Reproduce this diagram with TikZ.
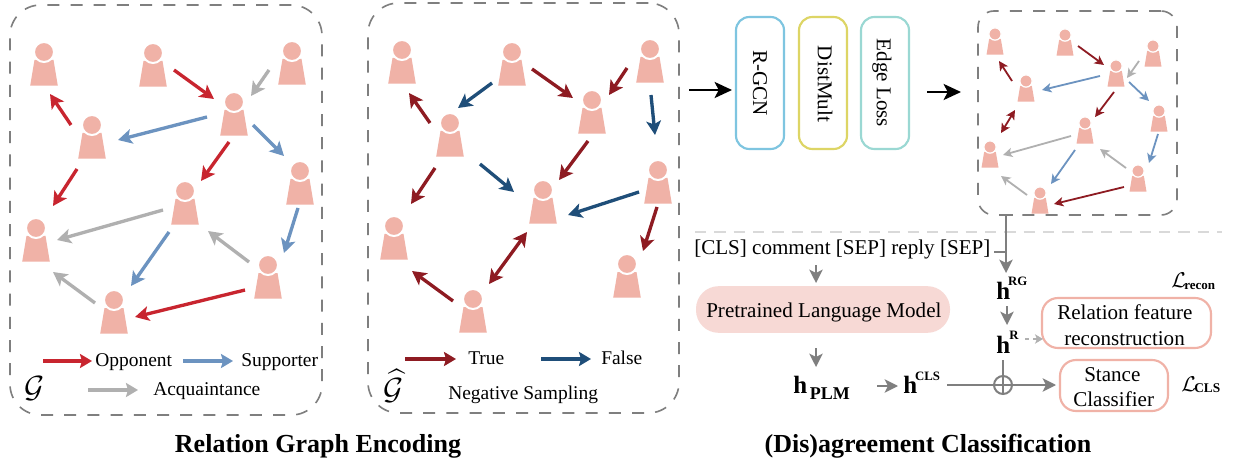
\documentclass[tikz,border=0pt]{standalone}
\usepackage{fontspec}
\usepackage{amsmath}
\setmainfont{Liberation Serif}
\usetikzlibrary{arrows.meta}
\definecolor{pskin}{HTML}{F0B2A7}
\definecolor{cred}{HTML}{C8252F}
\definecolor{cblue}{HTML}{6C93C0}
\definecolor{cgray}{HTML}{B0B0B0}
\definecolor{cdark}{HTML}{8E1B22}
\definecolor{cnavy}{HTML}{1F4E79}
\definecolor{fgray}{HTML}{7F7F7F}
\definecolor{modA}{HTML}{7EC5E0}
\definecolor{modB}{HTML}{DDD565}
\definecolor{modC}{HTML}{9AD8D3}
\definecolor{plmfill}{HTML}{F7D9D5}
\newcommand{\bodysize}{\fontsize{14.6}{17}\selectfont}
\newcommand{\largesize}{\fontsize{15.8}{18}\selectfont}
\newcommand{\person}[3]{%
  \begin{scope}[shift={(#2)},scale=#3]
    \fill[pskin] (-9.5,8) -- (9.5,8) -- (13.8,33.7) -- (-13.8,33.7) -- cycle;
    \pgfmathsetmacro{\headsize}{15*#3}
    \node[circle,fill=pskin,draw=white,line width=#3*1.5pt,inner sep=0pt,minimum size=\headsize pt] (#1) at (0,0) {};
  \end{scope}}
\newcommand{\conn}[5]{\draw[#1] ([shift={(#3)}]#2.center) -- ([shift={(#5)}]#4.center);}
\tikzset{
  x=0.75pt,y=-0.75pt,
  big/.style={line width=2.5pt,-{Stealth[length=10.5pt,width=11pt,inset=2.5pt]}},
  dbl/.style={line width=2.5pt,{Stealth[length=10.5pt,width=11pt,inset=2.5pt]}-{Stealth[length=10.5pt,width=11pt,inset=2.5pt]}},
  small/.style={line width=1.35pt,-{Stealth[length=7pt,width=7pt,inset=1.8pt]}},
  smalldbl/.style={line width=1.35pt,{Stealth[length=7pt,width=7pt,inset=1.8pt]}-{Stealth[length=7pt,width=7pt,inset=1.8pt]}},
  legend/.style={line width=2.4pt,-{Stealth[length=9pt,width=10.5pt,inset=1.5pt]}},
  dashbox/.style={draw=fgray,line width=1.2pt,rounded corners=23pt,dash pattern=on 9pt off 8.4pt,inner sep=0pt},
  modbox/.style={draw=#1,rounded corners=10pt,line width=1.6pt,rotate=-90,minimum width=99pt,minimum height=36pt,inner sep=0pt,font=\largesize},
  txt/.style={anchor=base west,inner sep=0pt,font=\bodysize,text=black},
  txtl/.style={anchor=base west,inner sep=0pt,font=\largesize,text=black},
  flow/.style={draw=fgray,line width=1.5pt},
  flowtip/.style={draw=fgray,line width=1.7pt,-{Stealth[length=10pt,width=10pt,inset=2.5pt]}},
  pinkbox/.style={draw=pskin,line width=1.6pt,rounded corners=12pt,inner sep=0pt},
  sym/.style={anchor=base west,inner sep=0pt,text=black},
  heading/.style={anchor=base,inner sep=0pt,font=\fontsize{19.5}{22}\selectfont\bfseries}
}
\begin{document}
\begin{tikzpicture}
\useasboundingbox (0,0) rectangle (1234,463);
\fill[white] (0,0) rectangle (1234,463);

% dashed frames
\node[dashbox,minimum width=234pt,minimum height=307.5pt] (frameA) at (166,210) {};
\node[dashbox,minimum width=233.25pt,minimum height=307.5pt] (frameB) at (523.5,208) {};
\node[dashbox,rounded corners=12pt,minimum width=149.25pt,minimum height=153pt] (frameC) at (1077.5,113) {};

% graph A
\person{a1}{44,52}{1}\person{a2}{153,53}{1}\person{a3}{292,51}{1}\person{a4}{234,102}{1}\person{a5}{92,125}{1}
\person{a6}{300,171}{1}\person{a7}{185,191}{1}\person{a8}{36,228}{1}\person{a9}{268,265}{1}\person{a10}{114,300}{1}
\conn{big,cred}{a2}{21,17}{a4}{-20,-3}
\conn{big,cgray}{a3}{-23,19}{a4}{17,-6}
\conn{big,cblue}{a4}{-27,15}{a5}{26,15}
\conn{big,cblue}{a4}{19,23}{a6}{-16,-15}
\conn{big,cred}{a4}{-5,40}{a7}{16,-10}
\conn{big,cred}{a5}{-21,0}{a1}{6,42}
\conn{big,cred}{a5}{-15,44}{a8}{17,-22}
\conn{big,cgray}{a7}{-22,19}{a8}{21,12}
\conn{big,cblue}{a6}{-2,37}{a9}{16,-12}
\conn{big,cblue}{a7}{-16,41}{a10}{17,-14}
\conn{big,cgray}{a9}{-19,-3}{a7}{23,40}
\conn{big,cgray}{a10}{-19,3}{a8}{17,44}
\conn{big,cred}{a9}{-23,25}{a10}{21,17}

% graph B
\person{b1}{402,50}{1}\person{b2}{512,52}{1}\person{b3}{650,49}{1}\person{b4}{592,100}{1}\person{b5}{450,123}{1}
\person{b6}{658,170}{1}\person{b7}{543,190}{1}\person{b8}{394,226}{1}\person{b9}{627,264}{1}\person{b10}{473,299}{1}
\conn{big,cdark}{b2}{20,17}{b4}{-19,-2}
\conn{big,cdark}{b3}{-23,19}{b4}{17,-5}
\conn{big,cnavy}{b2}{-20,31}{b5}{8,-15}
\conn{big,cdark}{b5}{-20,0}{b1}{7,43}
\conn{big,cdark}{b5}{-15,45}{b8}{17,-22}
\conn{big,cdark}{b4}{-4,41}{b7}{16,-10}
\conn{big,cnavy}{b5}{30,41}{b7}{-29,2}
\conn{big,cnavy}{b3}{1,46}{b6}{-3,-35}
\conn{big,cnavy}{b6}{-19,22}{b7}{25,25}
\conn{big,cdark}{b6}{-1,37}{b9}{16,-13}
\conn{dbl,cdark}{b7}{-16,42}{b10}{16,-15}
\conn{big,cdark}{b10}{-20,2}{b8}{18,45}

% graph C
\person{c1}{995,34}{0.615}\person{c2}{1065,35}{0.615}\person{c3}{1153,46}{0.615}\person{c4}{1116,66}{0.615}\person{c5}{1026,81}{0.615}
\person{c6}{1159,111}{0.615}\person{c7}{1085,123}{0.615}\person{c8}{990,147}{0.615}\person{c9}{1138,171}{0.615}\person{c10}{1040,193}{0.615}
\conn{small,cdark}{c2}{13,11}{c4}{-12,-1}
\conn{small,cgray}{c3}{-14,15}{c4}{11,12}
\conn{small,cblue}{c4}{-16,10}{c5}{16,9}
\conn{small,cblue}{c4}{13,16}{c6}{-10,-10}
\conn{small,cdark}{c4}{-2,26}{c7}{10,-6}
\conn{small,cdark}{c5}{-14,0}{c1}{4,27}
\conn{smalldbl,cdark}{c5}{-11,29}{c8}{11,-14}
\conn{small,cgray}{c7}{-14,13}{c8}{13,8}
\conn{small,cblue}{c6}{-1,23}{c9}{11,-8}
\conn{small,cblue}{c7}{-10,27}{c10}{11,-9}
\conn{small,cgray}{c9}{-12,-3}{c7}{15,26}
\conn{small,cgray}{c10}{-13,2}{c8}{11,29}
\conn{small,cdark}{c9}{-14,16}{c10}{14,11}

% legend A
\coordinate (la1) at (43,361);\coordinate (la2) at (92,361);
\coordinate (lb1) at (183,361);\coordinate (lb2) at (233,361);
\coordinate (lc1) at (88,390);\coordinate (lc2) at (138,390);
\draw[legend,cred] (la1) -- (la2);
\draw[legend,cblue] (lb1) -- (lb2);
\draw[legend,cgray] (lc1) -- (lc2);
\node[txt] (topp) at (95,366) {Opponent};
\node[txt] (tsup) at (241,366) {Supporter};
\node[txt] (tacq) at (153,395) {Acquaintance};
\node[inner sep=0pt,scale=2.3] (gA) at (35,389) {$\mathcal{G}$};

% legend B
\coordinate (ld1) at (405,359);\coordinate (ld2) at (456,359);
\coordinate (le1) at (541,359);\coordinate (le2) at (591,359);
\draw[legend,cdark] (ld1) -- (ld2);
\draw[legend,cnavy] (le1) -- (le2);
\node[txt] (ttrue) at (468,364) {True};
\node[txt] (tfalse) at (601,364) {False};
\node[txt] (tneg) at (448,399) {Negative Sampling};
\node[inner sep=0pt,scale=2.3] (gB) at (394,386) {$\widehat{\mathcal{G}}$};

% model boxes
\node[modbox=modA] (rgcn) at (760,83) {R-GCN};
\node[modbox=modB] (dist) at (823,83) {};
\node[rotate=-90,inner sep=0pt,font=\largesize] (distt) at (825,84) {DistMult};
\node[modbox=modC] (edge) at (885,83) {};
\node[rotate=-90,inner sep=0pt,font=\largesize] (edget) at (882,83) {Edge Loss};
\coordinate (inA) at (689,90);
\coordinate (inB) at (732,90);
\coordinate (outA) at (927,92);
\coordinate (outB) at (961,92);
\draw[black,line width=1.7pt,-{Stealth[length=13pt,width=12pt,inset=3pt]}] (inA) -- (inB);
\draw[black,line width=1.7pt,-{Stealth[length=13pt,width=12pt,inset=3pt]}] (outA) -- (outB);

% divider
\coordinate (divL) at (695,232);\coordinate (divR) at (1222,232);
\draw[gray!30,line width=1.3pt,dash pattern=on 8.5pt off 6pt] (divL) -- (divR);

% lower right
\node[txtl] (seq) at (694,255) {[CLS] comment [SEP] reply [SEP]};
\node[fill=plmfill,rounded corners=17pt,minimum width=190.5pt,minimum height=35pt,inner sep=0pt] (plm) at (823,309.5) {};
\node[txtl] (plmt) at (706,317) {Pretrained Language Model};

\node[sym,font=\fontsize{18.7}{20}\selectfont\bfseries] (hplm) at (793,393) {h\kern2pt\raisebox{-5pt}{\fontsize{13.5}{14}\selectfont PLM}};
\node[sym,font=\fontsize{18.7}{20}\selectfont\bfseries] (hcls) at (903,393) {h\kern-1.5pt\raisebox{9.75pt}{\fontsize{9.6}{10}\selectfont CLS}};
\node[sym,font=\fontsize{18.7}{20}\selectfont\bfseries] (hrg) at (996,299) {h\kern-1.5pt\raisebox{9.75pt}{\fontsize{9.6}{10}\selectfont RG}};
\node[sym,font=\fontsize{18.7}{20}\selectfont\bfseries] (hr) at (996,353) {h\kern-0.5pt\raisebox{10.5pt}{\fontsize{9.6}{10}\selectfont R}};

\node[pinkbox,minimum width=126.75pt,minimum height=37.5pt] (recon) at (1126.5,323) {};
\node[txtl] (recA) at (1057,319) {Relation feature};
\node[txtl] (recB) at (1064,345) {reconstruction};
\node[pinkbox,minimum width=81pt,minimum height=38.25pt] (stance) at (1114,385.5) {};
\node[txtl] (stA) at (1084,381) {Stance};
\node[txtl] (stB) at (1073,406) {Classifier};

\node[sym,scale=1.6] (Lr) at (1171,287) {$\mathcal{L}$};
\node[sym,font=\fontsize{9.75}{11}\selectfont\bfseries] (Lrt) at (1184,289) {recon};
\node[sym,scale=1.6] (Lc) at (1181,391) {$\mathcal{L}$};
\node[sym,font=\fontsize{10}{11}\selectfont\bfseries] (Lct) at (1194,392) {CLS};

% flow
\coordinate (vtop) at (1006,215);\coordinate (vtip) at (1006,273);
\coordinate (sepR) at (994,252);\coordinate (sepV) at (1006,252);
\coordinate (capL) at (1003,215.5);\coordinate (capR) at (1013,215.5);
\draw[flow] (capL) -- (capR);
\draw[flowtip] (vtop) -- (vtip);
\draw[flow] (sepR) -- (sepV);
\coordinate (d1a) at (816,265);\coordinate (d1b) at (816,283);
\coordinate (d2a) at (816,348);\coordinate (d2b) at (816,367);
\coordinate (d3a) at (877,386);\coordinate (d3b) at (898,386);
\coordinate (d4a) at (1007,306);\coordinate (d4b) at (1007,325);
\coordinate (dashA) at (1025,339);\coordinate (dashB) at (1043,339);
\coordinate (hLineL) at (947,385);\coordinate (hLineR) at (1056,385);
\coordinate (vLineT) at (1003,360);\coordinate (vLineB) at (1003,394);
\draw[flowtip] (d1a) -- (d1b);
\draw[flowtip] (d2a) -- (d2b);
\draw[flowtip] (d3a) -- (d3b);
\draw[flowtip] (d4a) -- (d4b);
\draw[draw=cgray,line width=0.9pt,dash pattern=on 3pt off 3pt,-{Stealth[length=6pt,width=7pt,inset=1.5pt]}] (dashA) -- (dashB);
\draw[flowtip] (hLineL) -- (hLineR);
\draw[flow] (vLineT) -- (vLineB);
\node[circle,draw=fgray,line width=1.5pt,minimum size=13.5pt,inner sep=0pt] (oplus) at (1003,385) {};

% headings
\node[heading] (head1) at (318,452) {Relation Graph Encoding};
\node[heading] (head2) at (928,452) {(Dis)agreement Classification};
\end{tikzpicture}
\end{document}
